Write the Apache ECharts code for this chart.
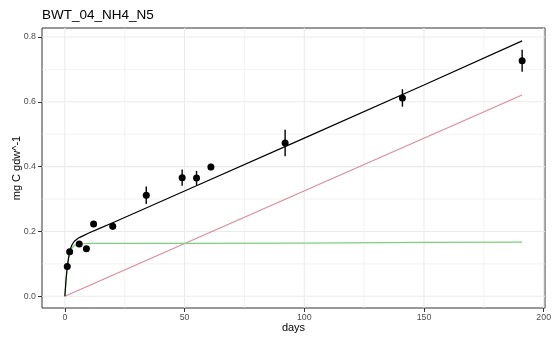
<!DOCTYPE html>
<html>
<head>
<meta charset="utf-8">
<script src="https://cdn.jsdelivr.net/npm/echarts@6/dist/echarts.min.js"></script>
<style>
  html, body { margin: 0; padding: 0; background: #ffffff; }
  #chart { width: 560px; height: 340px; }
</style>
</head>
<body>
<div id="chart"></div>
<script>
// Observed carbon release (mean ± error) by sampling day
const obsDays = [1, 2, 6, 9, 12, 20, 34, 49, 55, 61, 92, 141, 191];
const obsMean = [0.092, 0.137, 0.161, 0.147, 0.223, 0.216, 0.312, 0.366, 0.365, 0.399, 0.473, 0.612, 0.727];
const obsErr  = [0.008, 0.008, 0.006, 0.007, 0.006, 0.011, 0.027, 0.025, 0.022, 0.010, 0.041, 0.027, 0.034];

// Fitted curves: total model, fast pool and slow pool
const fitDays  = [0, 0.5, 1, 1.5, 2, 2.5, 3, 4, 5, 6, 8, 10, 15, 20, 50, 100, 150, 191];
const totalFit = [0, 0.052, 0.091, 0.117, 0.137, 0.150, 0.159, 0.170, 0.176, 0.181, 0.188, 0.195, 0.211, 0.227, 0.325, 0.488, 0.652, 0.788];
const fastPool = [0, 0.050, 0.088, 0.112, 0.130, 0.142, 0.149, 0.157, 0.160, 0.161, 0.162, 0.163, 0.163, 0.163, 0.163, 0.164, 0.166, 0.167];
const slowDays = [0, 191];
const slowPool = [0, 0.621];

// Axis ticks and grid positions
const xTicks = [0, 50, 100, 150, 200];
const xMinor = [25, 75, 125, 175];
const yTicks = [0, 0.2, 0.4, 0.6, 0.8];
const yMinor = [0.1, 0.3, 0.5, 0.7];

const FONT = '"Liberation Sans", Arial, Helvetica, sans-serif';
const zip = (xs, ys) => xs.map((x, i) => [x, ys[i]]);

const chart = echarts.init(document.getElementById('chart'), null, { renderer: 'canvas' });

// Panel grid lines: each item is [value, isHorizontal, lineWidth]
const gridItems = []
  .concat(xMinor.map(v => [v, 0, 0.6]))
  .concat(yMinor.map(v => [v, 1, 0.6]))
  .concat(xTicks.map(v => [v, 0, 1.1]))
  .concat(yTicks.map(v => [v, 1, 1.1]));

chart.setOption({
  animation: false,
  backgroundColor: '#ffffff',
  title: {
    text: 'BWT_04_NH4_N5',
    left: 42,
    top: 8,
    padding: 0,
    textStyle: { fontFamily: FONT, fontSize: 13.5, fontWeight: 'normal', color: '#000000' }
  },
  grid: {
    left: 42, right: 15, top: 28, bottom: 32,
    outerBoundsMode: 'none',
    containLabel: false,
    show: true,
    borderColor: '#333333',
    borderWidth: 1
  },
  xAxis: {
    type: 'value',
    min: -9.55,
    max: 200.55,
    name: 'days',
    nameLocation: 'middle',
    nameGap: 14,
    nameMoveOverlap: false,
    nameTextStyle: { fontFamily: FONT, fontSize: 11, color: '#000000' },
    axisLine: { show: false, onZero: false },
    splitLine: { show: false },
    axisTick: { show: true, customValues: xTicks, length: 4, lineStyle: { color: '#333333', width: 1 } },
    axisLabel: { customValues: xTicks, margin: 5, fontFamily: FONT, fontSize: 8.8, color: '#4D4D4D', formatter: v => String(v) }
  },
  yAxis: {
    type: 'value',
    min: -0.0362,
    max: 0.8278,
    name: 'mg C gdw^-1',
    nameLocation: 'middle',
    nameRotate: 90,
    nameGap: 20,
    nameMoveOverlap: false,
    nameTextStyle: { fontFamily: FONT, fontSize: 11, color: '#000000' },
    axisLine: { show: false, onZero: false },
    splitLine: { show: false },
    axisTick: { show: true, customValues: yTicks, length: 4, lineStyle: { color: '#333333', width: 1 } },
    axisLabel: { customValues: yTicks, margin: 6, fontFamily: FONT, fontSize: 8.8, color: '#4D4D4D', formatter: v => v.toFixed(1) }
  },
  series: [
    {
      type: 'custom', z: 1, silent: true, clip: true,
      data: gridItems,
      encode: { x: -1, y: -1 },
      renderItem: (params, api) => {
        const v = api.value(0), horiz = api.value(1), w = api.value(2);
        const cs = params.coordSys;
        let shape;
        if (horiz) {
          const y = api.coord([0, v])[1];
          shape = { x1: cs.x, y1: y, x2: cs.x + cs.width, y2: y };
        } else {
          const x = api.coord([v, 0])[0];
          shape = { x1: x, y1: cs.y, x2: x, y2: cs.y + cs.height };
        }
        return { type: 'line', shape: shape, style: { stroke: '#EBEBEB', lineWidth: w } };
      }
    },
    {
      type: 'line', data: zip(slowDays, slowPool), showSymbol: false, silent: true, z: 2,
      lineStyle: { color: '#D98C9C', width: 1.2 }
    },
    {
      type: 'line', data: zip(fitDays, fastPool), showSymbol: false, silent: true, z: 2,
      lineStyle: { color: '#7DCF7D', width: 1.2 }
    },
    {
      type: 'line', data: zip(fitDays, totalFit), showSymbol: false, silent: true, z: 3,
      lineStyle: { color: '#000000', width: 1.2 }
    },
    {
      type: 'custom', z: 4, silent: true,
      data: obsDays.map((d, i) => [d, obsMean[i], obsErr[i]]),
      encode: { x: 0, y: 1 },
      renderItem: (params, api) => {
        const x = api.value(0), m = api.value(1), e = api.value(2);
        const top = api.coord([x, m + e]);
        const bot = api.coord([x, m - e]);
        return {
          type: 'line',
          shape: { x1: top[0], y1: top[1], x2: bot[0], y2: bot[1] },
          style: { stroke: '#000000', lineWidth: 1.4 }
        };
      }
    },
    {
      type: 'scatter', z: 5, silent: true,
      data: zip(obsDays, obsMean),
      symbol: 'circle', symbolSize: 7,
      itemStyle: { color: '#000000', opacity: 1 }
    }
  ]
});
</script>
</body>
</html>
